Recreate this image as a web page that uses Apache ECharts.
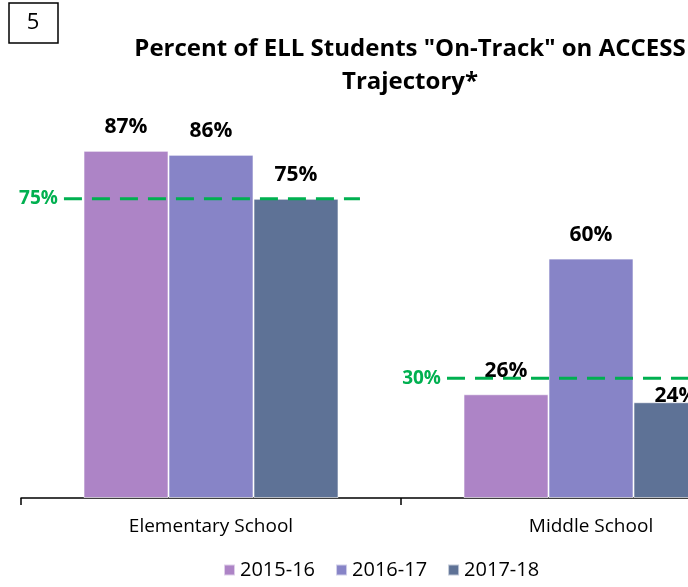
<!DOCTYPE html>
<html>
<head>
<meta charset="utf-8">
<script src="https://cdn.jsdelivr.net/npm/echarts@6/dist/echarts.min.js"></script>
<style>
  html, body { margin: 0; padding: 0; background: #fff; }
  #chart { width: 688px; height: 587px; }
</style>
</head>
<body>
<div id="chart"></div>
<script>
// chart data
var schools = ['Elementary School', 'Middle School'];
var years = ['2015-16', '2016-17', '2017-18'];
var pct2015 = [87, 26];
var pct2016 = [86, 60];
var pct2017 = [75, 24];
var targets = [75, 30];
var targetSpans = [[0.113, 0.892], [1.121, 2]]; // span of each target line, in category units
var colors = ['#AD84C6', '#8784C7', '#5E7296'];

var font = 'Open Sans';
var green = '#00B050';

function barSeries(name, values, color, nudge) {
  return {
    name: name,
    type: 'bar',
    data: values.map(function (v, i) {
      if (!nudge || !nudge[i]) return v;
      return { value: v, label: { offset: [0, nudge[i]] } };
    }),
    barWidth: 85,
    barGap: '0%',
    itemStyle: { color: color, borderColor: 'rgba(255,255,255,0.6)', borderWidth: 1 },
    label: {
      show: true,
      position: 'top',
      distance: 13,
      formatter: '{c}%',
      color: '#000',
      fontFamily: font,
      fontWeight: 'bold',
      fontSize: 21
    }
  };
}

function targetSeries(i) {
  var span = targetSpans[i];
  return {
    type: 'line',
    xAxisIndex: 1,
    yAxisIndex: 0,
    symbol: 'circle',
    symbolSize: 0,
    silent: true,
    lineStyle: { color: green, width: 3, type: [18, 10] },
    data: [
      {
        value: [span[0], targets[i]],
        label: {
          show: true,
          position: 'left',
          distance: 6,
          formatter: targets[i] + '%',
          color: green,
          fontFamily: font,
          fontWeight: 'bold',
          fontSize: 19
        }
      },
      [span[1], targets[i]]
    ],
    z: 5
  };
}

var myChart = echarts.init(document.getElementById('chart'));
myChart.setOption({
  animation: false,
  backgroundColor: '#fff',
  title: {
    text: 'Percent of ELL Students "On-Track" on ACCESS\nTrajectory*',
    left: 405,
    top: 28,
    textAlign: 'center',
    textStyle: { fontFamily: font, fontWeight: 'bold', fontSize: 24, lineHeight: 33, color: '#000' }
  },
  graphic: [
    {
      type: 'rect',
      shape: { x: 9, y: 3, width: 49, height: 40 },
      style: { fill: '#fff', stroke: '#000', lineWidth: 1.5 }
    },
    {
      type: 'text',
      x: 33, y: 23,
      style: { text: '5', fontFamily: font, fontSize: 22, fill: '#000', align: 'center', verticalAlign: 'middle' }
    }
  ],
  legend: {
    data: years,
    bottom: 2,
    left: 218,
    itemWidth: 11,
    itemHeight: 11,
    itemGap: 20,
    icon: 'rect',
    textStyle: { fontFamily: font, fontSize: 20, color: '#000' }
  },
  grid: { left: 21, top: 99, bottom: 89, width: 760, outerBoundsMode: 'none', containLabel: false },
  xAxis: [
    {
      type: 'category',
      data: schools,
      axisLine: { lineStyle: { color: '#000', width: 1.5 } },
      axisTick: { show: true, length: 7, lineStyle: { color: '#000', width: 1.5 } },
      axisLabel: { fontFamily: font, fontSize: 19, color: '#000', margin: 19 }
    },
    {
      type: 'value',
      min: 0,
      max: 2,
      show: false
    }
  ],
  yAxis: {
    type: 'value',
    min: 0,
    max: 100,
    show: false,
    splitLine: { show: false }
  },
  series: [
    barSeries(years[0], pct2015, colors[0]),
    barSeries(years[1], pct2016, colors[1]),
    barSeries(years[2], pct2017, colors[2], [0, 17]),
    targetSeries(0),
    targetSeries(1)
  ]
});
</script>
</body>
</html>
